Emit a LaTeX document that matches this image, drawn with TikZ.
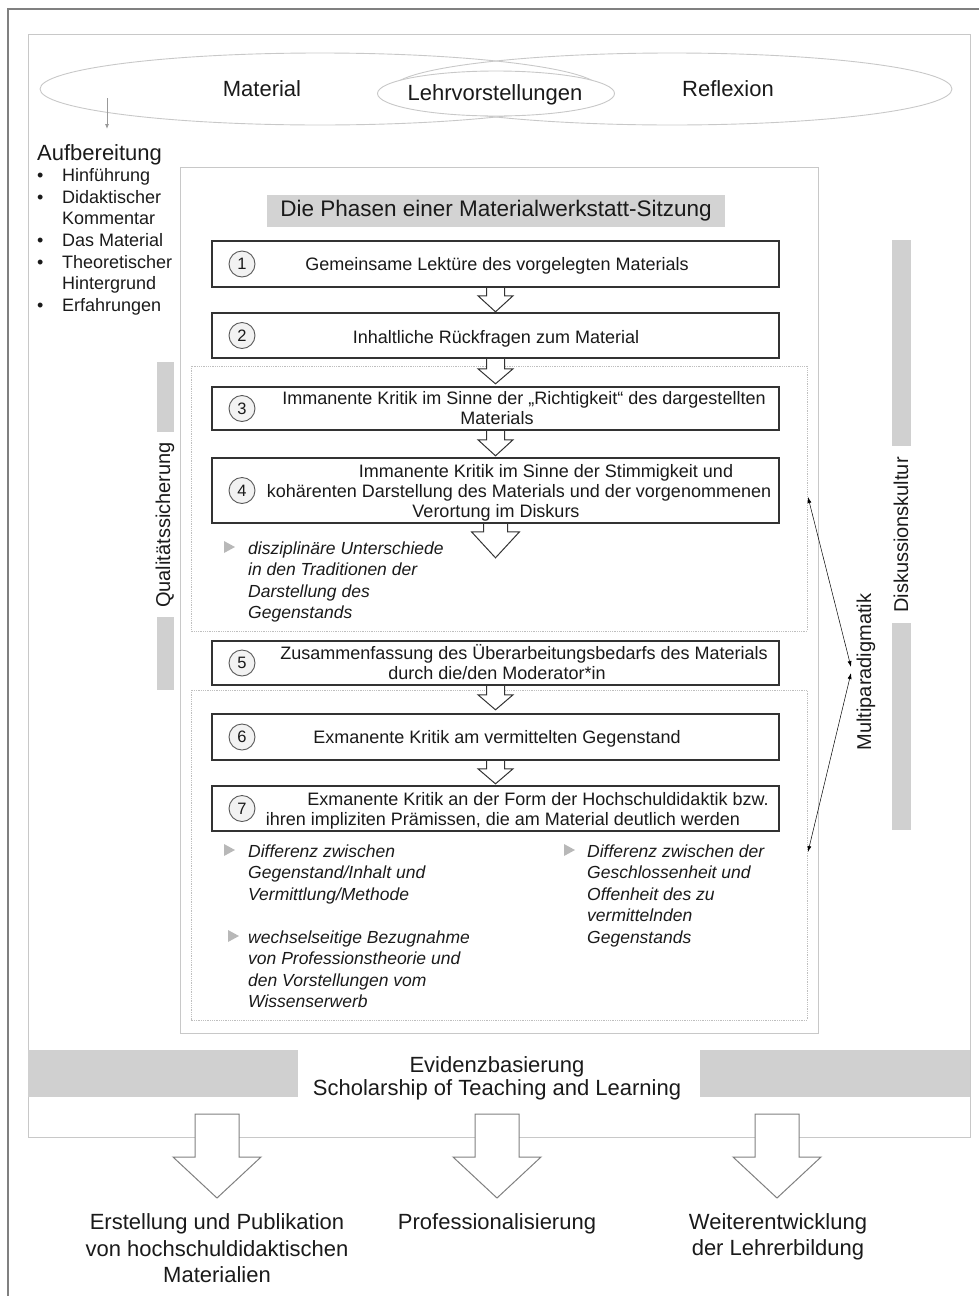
\documentclass[tikz,border=0pt]{standalone}
\usepackage{fontspec}
\setmainfont{Liberation Sans}
\usetikzlibrary{arrows.meta,calc}
\definecolor{barg}{HTML}{D0D0D0}
\definecolor{titleg}{HTML}{D3D3D3}
\definecolor{frameg}{HTML}{C8C8C8}
\definecolor{txt}{HTML}{1A1A1A}
\newcommand\myfs[2]{\fontsize{#1}{#2}\selectfont}
\tikzset{
 stepbox/.style={draw=black!80, line width=1.6pt, fill=white, minimum width=567pt, inner sep=0pt},
 numc/.style={circle, draw=black!65, line width=0.9pt, fill=black!5, minimum size=26pt, inner sep=0pt, font=\myfs{16.5}{16}, text=txt},
 steptext/.style={anchor=base, inner sep=0pt, font=\myfs{18}{20}, text=txt},
 bigtext/.style={anchor=base, inner sep=0pt, font=\myfs{22}{24}, text=txt},
 listtext/.style={anchor=base west, inner sep=0pt, font=\myfs{18}{20}, text=txt},
 ittext/.style={anchor=base west, inner sep=0pt, font=\myfs{17.5}{20}\itshape, text=txt},
 vtext/.style={rotate=90, inner sep=0pt, font=\myfs{20}{22}, text=txt},
 arrowline/.style={draw=black!80, line width=1pt},
 bigarrowline/.style={draw=black!50, line width=1pt, fill=white},
 tri/.style={fill=black!28},
 dbl/.style={black, line width=0.5pt, {Latex[length=6pt,width=4pt]}-{Latex[length=6pt,width=4pt]}},
 pics/harrow/.style n args={4}{code={
   \fill[white] (-#3,1) -- (-#3,#1) -- (-#4,#1) -- (0,#1+#2) -- (#4,#1) -- (#3,#1) -- (#3,1) -- cycle;
   \draw[arrowline, line join=miter] (-#3,0) -- (-#3,#1) -- (-#4,#1) -- (0,#1+#2) -- (#4,#1) -- (#3,#1) -- (#3,0);
 }},
 pics/barrow/.style={code={
   \draw[bigarrowline] (-22,0) -- (22,0) -- (22,43) -- (44,43) -- (0,84) -- (-44,43) -- (-22,43) -- cycle;
 }},
}
\begin{document}
\begin{tikzpicture}[x=1pt,y=-1pt]
\useasboundingbox (0,0) rectangle (978,1296);
% frames
\draw[black!50, line width=2pt] (8,1310) -- (8,9) -- (990,9);
\draw[frameg, line width=1pt] (28,34) rectangle (970,1137);
% ellipses
\draw[frameg, line width=0.9pt] (320,89) ellipse [x radius=280pt, y radius=36pt];
\draw[frameg, line width=0.9pt] (672,89) ellipse [x radius=280pt, y radius=36pt];
\draw[frameg, line width=0.9pt, fill=white] (496,93.5) ellipse [x radius=118.5pt, y radius=22.5pt];
\node[bigtext] (mat) at (262,96) {Material};
\node[bigtext] (lv) at (495,100.5) {Lehrvorstellungen};
\node[bigtext] (ref) at (728,96) {Reflexion};
\coordinate (ua) at (107,98);
\coordinate (ub) at (107,129);
\draw[black!40, line width=0.8pt, -{Latex[length=5pt,width=4pt]}] (ua) -- (ub);
% Aufbereitung
\node[anchor=base west, inner sep=0pt, font=\myfs{22}{24}, text=txt] (auf) at (37,160) {Aufbereitung};
\node[listtext] (d1) at (37,181.5) {•};
\node[listtext] (l1) at (62,181.5) {Hinführung};
\node[listtext] (d2) at (37,203.5) {•};
\node[listtext] (l2) at (62,203.5) {Didaktischer};
\node[listtext] (l3) at (62,224.5) {Kommentar};
\node[listtext] (d4) at (37,246.5) {•};
\node[listtext] (l4) at (62,246.5) {Das Material};
\node[listtext] (d5) at (37,268.5) {•};
\node[listtext] (l5) at (62,268.5) {Theoretischer};
\node[listtext] (l6) at (62,289.5) {Hintergrund};
\node[listtext] (d7) at (37,311.5) {•};
\node[listtext] (l7) at (62,311.5) {Erfahrungen};
% middle frame and sub-frames
\draw[frameg, line width=1pt] (180,167) rectangle (818,1033);
\draw[black!25, densely dotted, line width=0.8pt] (191,366) rectangle (807,631);
\draw[black!25, densely dotted, line width=0.8pt] (191,690) rectangle (807,1020);
% title
\node[fill=titleg, minimum width=458pt, minimum height=32pt, inner sep=0pt, font=\myfs{22.5}{24}, text=txt] (title) at (496,211) {Die Phasen einer Materialwerkstatt-Sitzung};
% step boxes
\node[stepbox, minimum height=46pt] (b1) at (495.5,264) {};
\node[stepbox, minimum height=45pt] (b2) at (495.5,335.5) {};
\node[stepbox, minimum height=43pt] (b3) at (495.5,408.5) {};
\node[stepbox, minimum height=65pt] (b4) at (495.5,490.5) {};
\node[stepbox, minimum height=44pt] (b5) at (495.5,663) {};
\node[stepbox, minimum height=46pt] (b6) at (495.5,737) {};
\node[stepbox, minimum height=45pt] (b7) at (495.5,808.5) {};
\node[numc] (n1) at (242,264) {1};
\node[numc] (n2) at (242,335.5) {2};
\node[numc] (n3) at (242,408.5) {3};
\node[numc] (n4) at (242,490.5) {4};
\node[numc] (n5) at (242,663) {5};
\node[numc] (n6) at (242,737) {6};
\node[numc] (n7) at (242,808.5) {7};
\node[steptext] (t1) at (497,270) {Gemeinsame Lektüre des vorgelegten Materials};
\node[steptext] (t2) at (496,343) {Inhaltliche Rückfragen zum Material};
\node[steptext] (t3a) at (524,404) {Immanente Kritik im Sinne der „Richtigkeit“ des dargestellten};
\node[steptext] (t3b) at (497,424) {Materials};
\node[steptext] (t4a) at (546,477) {Immanente Kritik im Sinne der Stimmigkeit und};
\node[steptext] (t4b) at (519,497) {kohärenten Darstellung des Materials und der vorgenommenen};
\node[steptext] (t4c) at (496,517) {Verortung im Diskurs};
\node[steptext] (t5a) at (524,659) {Zusammenfassung des Überarbeitungsbedarfs des Materials};
\node[steptext] (t5b) at (497,679) {durch die/den Moderator*in};
\node[steptext] (t6) at (497,743) {Exmanente Kritik am vermittelten Gegenstand};
\node[steptext] (t7a) at (538,805) {Exmanente Kritik an der Form der Hochschuldidaktik bzw.};
\node[steptext] (t7b) at (503,825) {ihren impliziten Prämissen, die am Material deutlich werden};
% hollow arrows between steps
\pic at (b1.south) {harrow={8}{16}{9}{17.5}};
\pic at (b2.south) {harrow={10}{15}{9}{17.5}};
\pic at (b3.south) {harrow={9}{16}{9}{17.5}};
\pic at (b4.south) {harrow={8}{26}{12}{24}};
\pic at (b5.south) {harrow={9}{15}{9}{17.5}};
\pic at (b6.south) {harrow={8}{15}{9}{17.5}};
% italic bullets
\fill[tri] (224,541) -- (235,547) -- (224,553) -- cycle;
\node[ittext] (i1a) at (248,554) {disziplinäre Unterschiede};
\node[ittext] (i1b) at (248,575.5) {in den Traditionen der};
\node[ittext] (i1c) at (248,597) {Darstellung des};
\node[ittext] (i1d) at (248,618.5) {Gegenstands};
\fill[tri] (224,844) -- (235,850) -- (224,856) -- cycle;
\node[ittext] (i2a) at (248,857) {Differenz zwischen};
\node[ittext] (i2b) at (248,878.5) {Gegenstand/Inhalt und};
\node[ittext] (i2c) at (248,900) {Vermittlung/Methode};
\fill[tri] (228,930) -- (239,936) -- (228,942) -- cycle;
\node[ittext] (i3a) at (248,943) {wechselseitige Bezugnahme};
\node[ittext] (i3b) at (248,964.5) {von Professionstheorie und};
\node[ittext] (i3c) at (248,986) {den Vorstellungen vom};
\node[ittext] (i3d) at (248,1007.5) {Wissenserwerb};
\fill[tri] (564,844) -- (575,850) -- (564,856) -- cycle;
\node[ittext] (i4a) at (587,857) {Differenz zwischen der};
\node[ittext] (i4b) at (587,878.5) {Geschlossenheit und};
\node[ittext] (i4c) at (587,900) {Offenheit des zu};
\node[ittext] (i4d) at (587,921.5) {vermittelnden};
\node[ittext] (i4e) at (587,943) {Gegenstands};
% side bars and vertical labels
\fill[barg] (157,362) rectangle (174,432);
\fill[barg] (157,617) rectangle (174,690);
\node[vtext] (qs) at (165,525) {Qualitätssicherung};
\fill[barg] (892,240) rectangle (911,446);
\fill[barg] (892,623) rectangle (911,830);
\node[vtext] (dk) at (901,535) {Diskussionskultur};
\node[vtext] (mp) at (866,672) {Multiparadigmatik};
% double arrows
\coordinate (m4) at (808,497);
\coordinate (m0a) at (851,667);
\coordinate (m0b) at (851,673);
\coordinate (m7) at (808,852);
\draw[dbl] (m4) -- (m0a);
\draw[dbl] (m0b) -- (m7);
% Evidenzbasierung
\fill[barg] (28,1050) rectangle (298,1097);
\fill[barg] (700,1050) rectangle (970,1097);
\node[bigtext] (ev1) at (497,1072) {Evidenzbasierung};
\node[bigtext] (ev2) at (497,1095) {Scholarship of Teaching and Learning};
% bottom arrows
\coordinate (o1) at (217,1114);
\coordinate (o2) at (497,1114);
\coordinate (o3) at (777,1114);
\pic at (o1) {barrow};
\pic at (o2) {barrow};
\pic at (o3) {barrow};
\node[bigtext] (r1a) at (217,1229) {Erstellung und Publikation};
\node[bigtext] (r1b) at (217,1256) {von hochschuldidaktischen};
\node[bigtext] (r1c) at (217,1282) {Materialien};
\node[bigtext] (r2) at (497,1229) {Professionalisierung};
\node[bigtext] (r3a) at (778,1229) {Weiterentwicklung};
\node[bigtext] (r3b) at (778,1255) {der Lehrerbildung};
\end{tikzpicture}
\end{document}
